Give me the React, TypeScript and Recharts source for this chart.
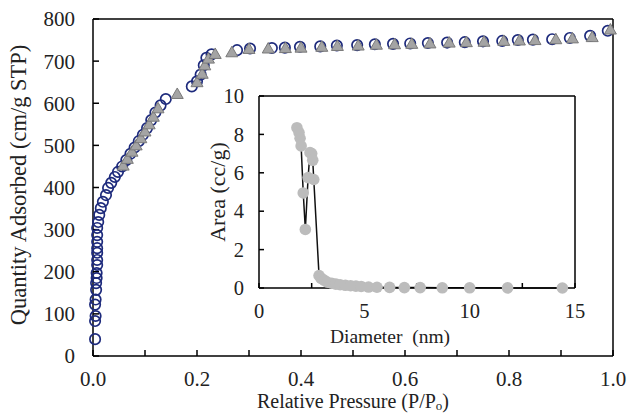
import React from 'react';
import { ScatterChart, Scatter, XAxis, YAxis, ReferenceLine, ComposedChart, Line } from 'recharts';

// Isotherm – adsorption branch (open circles)
const adsP = [0.004, 0.004, 0.005, 0.004, 0.005, 0.006, 0.006, 0.007, 0.007, 0.008, 0.008, 0.008, 0.008, 0.008, 0.008, 0.008, 0.01, 0.012, 0.015, 0.019, 0.025, 0.029, 0.035, 0.042, 0.048, 0.056, 0.064, 0.072, 0.08, 0.088, 0.096, 0.104, 0.112, 0.12, 0.13, 0.14, 0.19, 0.2, 0.207, 0.213, 0.218, 0.228, 0.277, 0.302, 0.344, 0.369, 0.398, 0.437, 0.469, 0.508, 0.542, 0.577, 0.61, 0.644, 0.681, 0.715, 0.75, 0.787, 0.817, 0.846, 0.883, 0.917, 0.956, 0.99];
const adsQ = [40, 83, 95, 122, 134, 157, 173, 185, 197, 216, 228, 245, 256, 271, 287, 304, 318, 335, 351, 366, 382, 399, 411, 425, 437, 450, 465, 480, 495, 510, 525, 541, 560, 578, 595, 610, 640, 652, 668, 690, 708, 716, 726, 730, 731, 732, 734, 735, 737, 738, 740, 741, 742, 743, 744, 745, 747, 748, 750, 751, 752, 755, 760, 772];

// Isotherm – desorption branch (grey triangles)
const desP = [0.058, 0.066, 0.075, 0.083, 0.092, 0.1, 0.108, 0.116, 0.125, 0.162, 0.2, 0.21, 0.215, 0.222, 0.235, 0.267, 0.3, 0.337, 0.37, 0.4, 0.44, 0.47, 0.51, 0.545, 0.58, 0.613, 0.648, 0.685, 0.718, 0.752, 0.79, 0.82, 0.85, 0.89, 0.922, 0.96, 0.995];
const desQ = [452, 468, 485, 500, 517, 533, 550, 568, 588, 622, 650, 670, 690, 706, 717, 721, 729, 730, 731, 732, 734, 736, 737, 739, 740, 741, 742, 744, 745, 746, 748, 749, 750, 752, 754, 757, 775];

// Pore size distribution (inset)
const poreD = [1.8, 1.9, 1.95, 2.0, 2.1, 2.2, 2.33, 2.42, 2.5, 2.55, 2.6, 2.85, 2.95, 3.1, 3.25, 3.45, 3.65, 3.85, 4.1, 4.35, 4.6, 4.85, 5.2, 5.6, 6.2, 6.9, 7.65, 8.7, 10.0, 11.8, 14.4];
const poreArea = [8.35, 8.1, 7.8, 7.4, 4.95, 3.05, 5.75, 7.05, 7.0, 6.65, 5.65, 0.65, 0.5, 0.4, 0.3, 0.25, 0.2, 0.17, 0.14, 0.12, 0.1, 0.08, 0.05, 0.04, 0.03, 0.02, 0.02, 0.01, 0.01, 0.005, 0.0];

const xTicks = [0, 0.1, 0.2, 0.3, 0.4, 0.5, 0.6, 0.7, 0.8, 0.9, 1.0];
const yTicks = [0, 100, 200, 300, 400, 500, 600, 700, 800];
const insetXTicks = [0, 2.5, 5, 7.5, 10, 12.5, 15];
const insetYTicks = [0, 2, 4, 6, 8, 10];

const FONT = '"Liberation Serif", "Times New Roman", serif';
const tickStyle = { fontFamily: FONT, fontSize: 21, fill: '#222' };
const insetTickStyle = { fontFamily: FONT, fontSize: 20.5, fill: '#222' };

const adsData = adsP.map((p, i) => ({ p, q: adsQ[i] }));
const desData = desP.map((p, i) => ({ p, q: desQ[i] }));
const poreData = poreD.map((d, i) => ({ d, a: poreArea[i] }));

const CircleShape = (props: any) => (
  <circle cx={props.cx} cy={props.cy} r={5.2} fill="none" stroke="#1d2a7c" strokeWidth={1.7} />
);
const TriShape = (props: any) => {
  const { cx, cy } = props;
  const s = 6;
  return (
    <polygon
      points={`${cx},${cy - s} ${cx - s},${cy + s * 0.75} ${cx + s},${cy + s * 0.75}`}
      fill="#a4a4a4"
      stroke="#7a7a7a"
      strokeWidth={1}
    />
  );
};
const DotShape = (props: any) => (
  <circle cx={props.cx} cy={props.cy} r={5.8} fill="#bcbcbc" stroke="none" />
);

export default function App() {
  return (
    <div style={{ position: 'absolute', left: 0, top: 0, width: 627, height: 415, background: '#fff', fontFamily: FONT }}>
      <ScatterChart width={627} height={415} margin={{ top: 19, right: 14, left: 33, bottom: 9 }}>
        <XAxis
          type="number"
          dataKey="p"
          domain={[0, 1]}
          ticks={xTicks}
          tickFormatter={(v: number) => (Math.round(v * 10) % 2 === 0 ? v.toFixed(1) : '')}
          tickSize={-6}
          tickMargin={21}
          height={50}
          stroke="#000"
          strokeWidth={1.5}
          tick={tickStyle}
          interval={0}
        />
        <YAxis
          type="number"
          dataKey="q"
          domain={[0, 800]}
          ticks={yTicks}
          tickSize={-6}
          tickMargin={24}
          width={60}
          stroke="#000"
          strokeWidth={1.5}
          tick={tickStyle}
          interval={0}
        />
        <ReferenceLine y={800} stroke="#000" strokeWidth={1.5} />
        <ReferenceLine x={1} stroke="#000" strokeWidth={1.5} />
        <Scatter data={adsData} shape={CircleShape} isAnimationActive={false} />
        <Scatter data={desData} shape={TriShape} isAnimationActive={false} />
      </ScatterChart>

      <div style={{ position: 'absolute', left: 200, top: 80 }}>
        <ComposedChart width={390} height={250} data={poreData} margin={{ top: 16, right: 15, left: 19, bottom: 2 }}>
          <XAxis
            type="number"
            dataKey="d"
            domain={[0, 15]}
            ticks={insetXTicks}
            tickFormatter={(v: number) => (v % 5 === 0 ? String(v) : '')}
            tickSize={-5}
            tickMargin={20}
            height={40}
            stroke="#000"
            strokeWidth={1.5}
            tick={insetTickStyle}
            interval={0}
          />
          <YAxis
            type="number"
            dataKey="a"
            domain={[0, 10]}
            ticks={insetYTicks}
            tickSize={-5}
            tickMargin={20}
            width={40}
            stroke="#000"
            strokeWidth={1.5}
            tick={insetTickStyle}
            interval={0}
          />
          <ReferenceLine y={10} stroke="#000" strokeWidth={1.5} />
          <ReferenceLine x={15} stroke="#000" strokeWidth={1.5} />
          <Scatter dataKey="a" shape={DotShape} isAnimationActive={false} />
          <Line dataKey="a" type="linear" stroke="#111" strokeWidth={1.5} dot={false} isAnimationActive={false} />
        </ComposedChart>
      </div>

      {/* Axis titles */}
      <div style={{ position: 'absolute', left: 0, top: 391, width: 706, textAlign: 'center', fontSize: 20, color: '#222', lineHeight: '20px', whiteSpace: 'nowrap' }}>
        Relative Pressure (P/P<span style={{ fontSize: 13, position: 'relative', top: 2 }}>o</span>)
      </div>
      <div style={{ position: 'absolute', left: 19, top: 185, width: 0, height: 0 }}>
        <div style={{ position: 'absolute', transform: 'translate(-50%, -50%) rotate(-90deg)', fontSize: 22.5, color: '#222', whiteSpace: 'nowrap', lineHeight: '22px' }}>
          Quantity Adsorbed (cm/g STP)
        </div>
      </div>
      <div style={{ position: 'absolute', left: 218, top: 192, width: 0, height: 0 }}>
        <div style={{ position: 'absolute', transform: 'translate(-50%, -50%) rotate(-90deg)', fontSize: 22, color: '#222', whiteSpace: 'nowrap', lineHeight: '22px' }}>
          Area (cc/g)
        </div>
      </div>
      <div style={{ position: 'absolute', left: 290, top: 327, width: 200, textAlign: 'center', fontSize: 19.5, color: '#222', lineHeight: '20px', whiteSpace: 'pre' }}>
        {'Diameter  (nm)'}
      </div>
    </div>
  );
}
